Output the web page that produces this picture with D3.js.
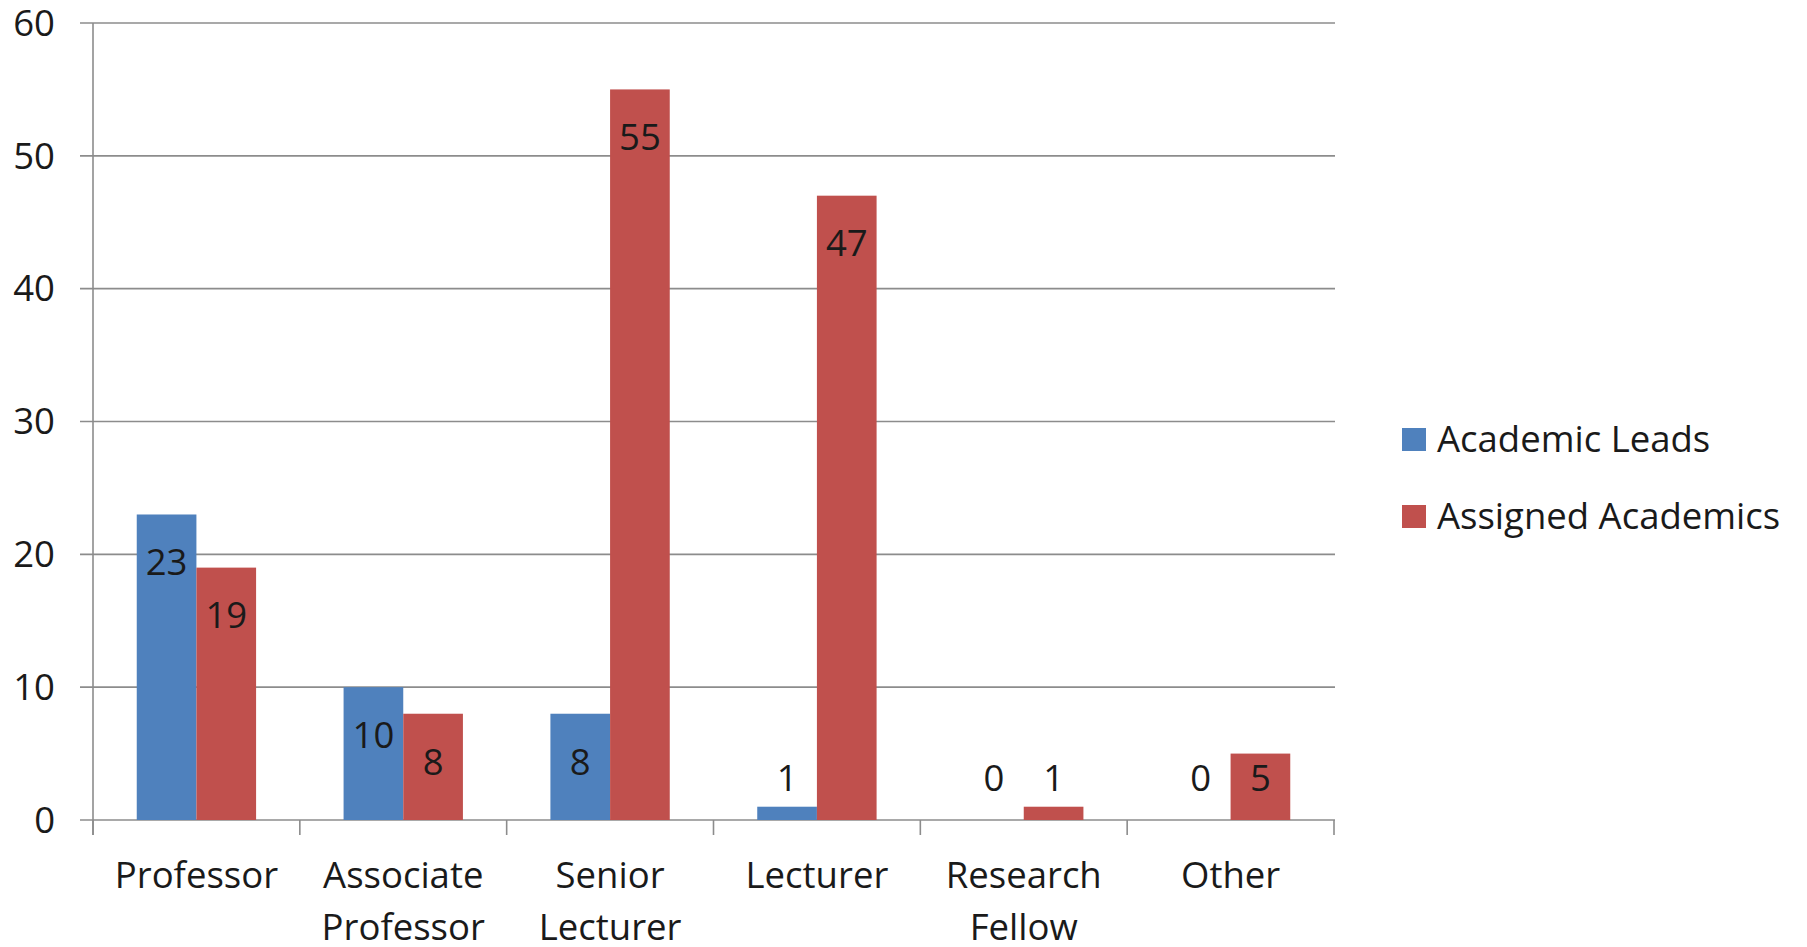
<!DOCTYPE html>
<html>
<head>
<meta charset="utf-8">
<script src="https://cdn.jsdelivr.net/npm/d3@7"></script>
<style>
  html, body { margin: 0; padding: 0; background: #fff; }
  svg { display: block; }
  text { font-family: "Open Sans", sans-serif; fill: #1a1a1a; }
</style>
</head>
<body>
<svg id="chart" width="1807" height="947"></svg>
<script>
const categories = [["Professor"], ["Associate", "Professor"], ["Senior", "Lecturer"], ["Lecturer"], ["Research", "Fellow"], ["Other"]];
const categoryKeys = ["Professor", "Associate Professor", "Senior Lecturer", "Lecturer", "Research Fellow", "Other"];
const seriesNames = ["Academic Leads", "Assigned Academics"];
const academicLeads = [23, 10, 8, 1, 0, 0];
const assignedAcademics = [19, 8, 55, 47, 1, 5];
const yTicks = [0, 10, 20, 30, 40, 50, 60];
const colors = ["#4F81BD", "#C0504D"];

(function () {
const seriesValues = [academicLeads, assignedAcademics];
const svg = d3.select("#chart");
const plotLeft = 93, plotRight = 1334, plotTop = 23, plotBottom = 820;
const fontSize = 36.5;

const x = d3.scaleBand().domain(categoryKeys).range([plotLeft, plotRight]).paddingInner(0).paddingOuter(0);
const groupFrac = 0.577;
const x1 = d3.scaleBand().domain(seriesNames).range([0, x.bandwidth() * groupFrac]);
const groupOffset = x.bandwidth() * (1 - groupFrac) / 2;
const y = d3.scaleLinear().domain([0, 60]).range([plotBottom, plotTop]);

// gridlines
svg.append("g").selectAll("line").data(yTicks).join("line")
  .attr("x1", plotLeft - 13).attr("x2", plotRight + 1)
  .attr("y1", d => y(d)).attr("y2", d => y(d))
  .attr("stroke", "#8c8c8c").attr("stroke-width", 1.6);

// y axis line
svg.append("line").attr("x1", plotLeft).attr("x2", plotLeft).attr("y1", plotTop).attr("y2", plotBottom + 15)
  .attr("stroke", "#8c8c8c").attr("stroke-width", 1.6);

// y tick labels
svg.append("g").selectAll("text").data(yTicks).join("text")
  .attr("x", 55).attr("y", d => y(d)).attr("dy", "0.35em")
  .attr("text-anchor", "end").attr("font-size", fontSize).text(d => d);

// x tick marks at category boundaries
const boundaries = categoryKeys.map(c => x(c)).concat([x(categoryKeys[categoryKeys.length - 1]) + x.bandwidth()]);
svg.append("g").selectAll("line").data(boundaries).join("line")
  .attr("x1", d => d).attr("x2", d => d).attr("y1", plotBottom).attr("y2", plotBottom + 15)
  .attr("stroke", "#8c8c8c").attr("stroke-width", 1.6);

// bars
const flat = [];
categoryKeys.forEach((c, i) => {
  seriesNames.forEach((s, j) => {
    flat.push({ cat: c, series: s, j, value: seriesValues[j][i] });
  });
});

svg.append("g").selectAll("rect").data(flat).join("rect")
  .attr("x", d => x(d.cat) + groupOffset + x1(d.series))
  .attr("width", x1.bandwidth())
  .attr("y", d => y(d.value))
  .attr("height", d => y(0) - y(d.value))
  .attr("fill", d => colors[d.j]);

// data labels
svg.append("g").selectAll("text").data(flat).join("text")
  .attr("x", d => x(d.cat) + groupOffset + x1(d.series) + x1.bandwidth() / 2)
  .attr("y", d => Math.min(y(d.value) + 48, y(0) - 42))
  .attr("dy", "0.35em")
  .attr("text-anchor", "middle").attr("font-size", fontSize)
  .text(d => d.value);

// category labels
const catG = svg.append("g").selectAll("text").data(categories).join("text")
  .attr("text-anchor", "middle").attr("font-size", fontSize)
  .attr("transform", (d, i) => `translate(${x(categoryKeys[i]) + x.bandwidth() / 2},888)`);
catG.selectAll("tspan").data(d => d).join("tspan")
  .attr("x", 0).attr("y", (d, i) => i * 52).text(d => d);

// legend
const leg = svg.append("g").selectAll("g").data(seriesNames).join("g")
  .attr("transform", (d, i) => `translate(1402,${428 + i * 77})`);
leg.append("rect").attr("width", 24).attr("height", 23).attr("fill", (d, i) => colors[i]);
leg.append("text").attr("x", 35).attr("y", 24).attr("font-size", fontSize).text(d => d);
})();
</script>
</body>
</html>
